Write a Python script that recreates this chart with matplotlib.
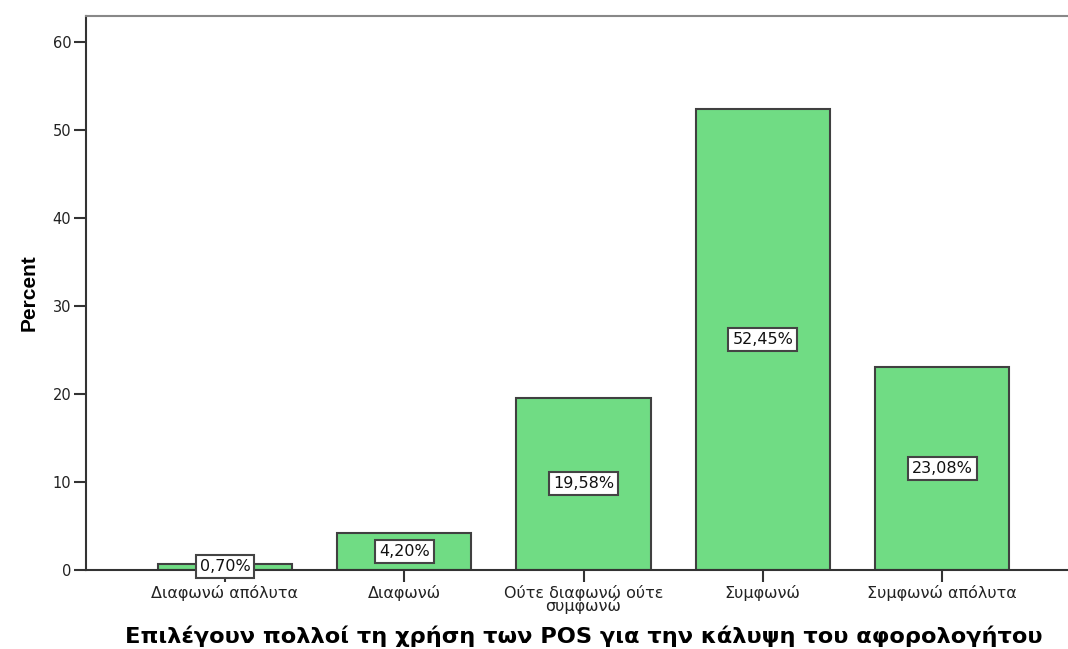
import matplotlib
matplotlib.use('Agg')
import matplotlib.pyplot as plt

plt.rcParams['font.family'] = ['DejaVu Sans']

# Ποσοστά απαντήσεων ανά κατηγορία
categories = ['Διαφωνώ απόλυτα', 'Διαφωνώ', 'Ούτε διαφωνώ ούτε\nσυμφωνώ',
              'Συμφωνώ', 'Συμφωνώ απόλυτα']
percent = [0.70, 4.20, 19.58, 52.45, 23.08]
yticks = [0, 10, 20, 30, 40, 50, 60]

fig = plt.figure(figsize=(10.68, 6.49), dpi=100)
ax = fig.add_axes([0.0805, 0.1217, 0.9317, 0.8536])

x = range(len(categories))
ax.bar(x, percent, width=0.75, color='#70dc84', edgecolor='#404040', linewidth=1.5, zorder=2)

for i, v in zip(x, percent):
    ax.text(i, v / 2, ('%.2f%%' % v).replace('.', ','), ha='center', va='center',
            fontsize=11.5, color='#111111', zorder=3,
            bbox=dict(boxstyle='square,pad=0.25', facecolor='white', edgecolor='#444444', linewidth=1.5))

ax.set_xlim(-0.775, 4.775)
ax.set_ylim(0, 63)
ax.set_xticks(list(x))
ax.set_xticklabels(categories, fontsize=11.5, linespacing=0.8, color='#222222')
ax.set_yticks(yticks)
ax.set_yticklabels([str(t) for t in yticks], fontsize=10.5, color='#222222')
ax.tick_params(axis='both', length=8.5, width=1.5, color='#333333', pad=2)

ax.spines['right'].set_visible(False)
ax.spines['left'].set_color('#333333')
ax.spines['left'].set_linewidth(1.5)
ax.spines['bottom'].set_color('#333333')
ax.spines['bottom'].set_linewidth(1.5)
ax.spines['top'].set_color('#888888')
ax.spines['top'].set_linewidth(1.5)

ax.set_ylabel('Percent', fontsize=15, fontweight='bold',
              family=['Liberation Sans Narrow', 'Liberation Sans'], labelpad=10)
ax.set_xlabel('Επιλέγουν πολλοί τη χρήση των POS για την κάλυψη του αφορολογήτου',
              fontsize=16.2, fontweight='bold', va='baseline')
ax.xaxis.set_label_coords(0.5, -0.131)

fig.savefig('out.png', dpi=100)
